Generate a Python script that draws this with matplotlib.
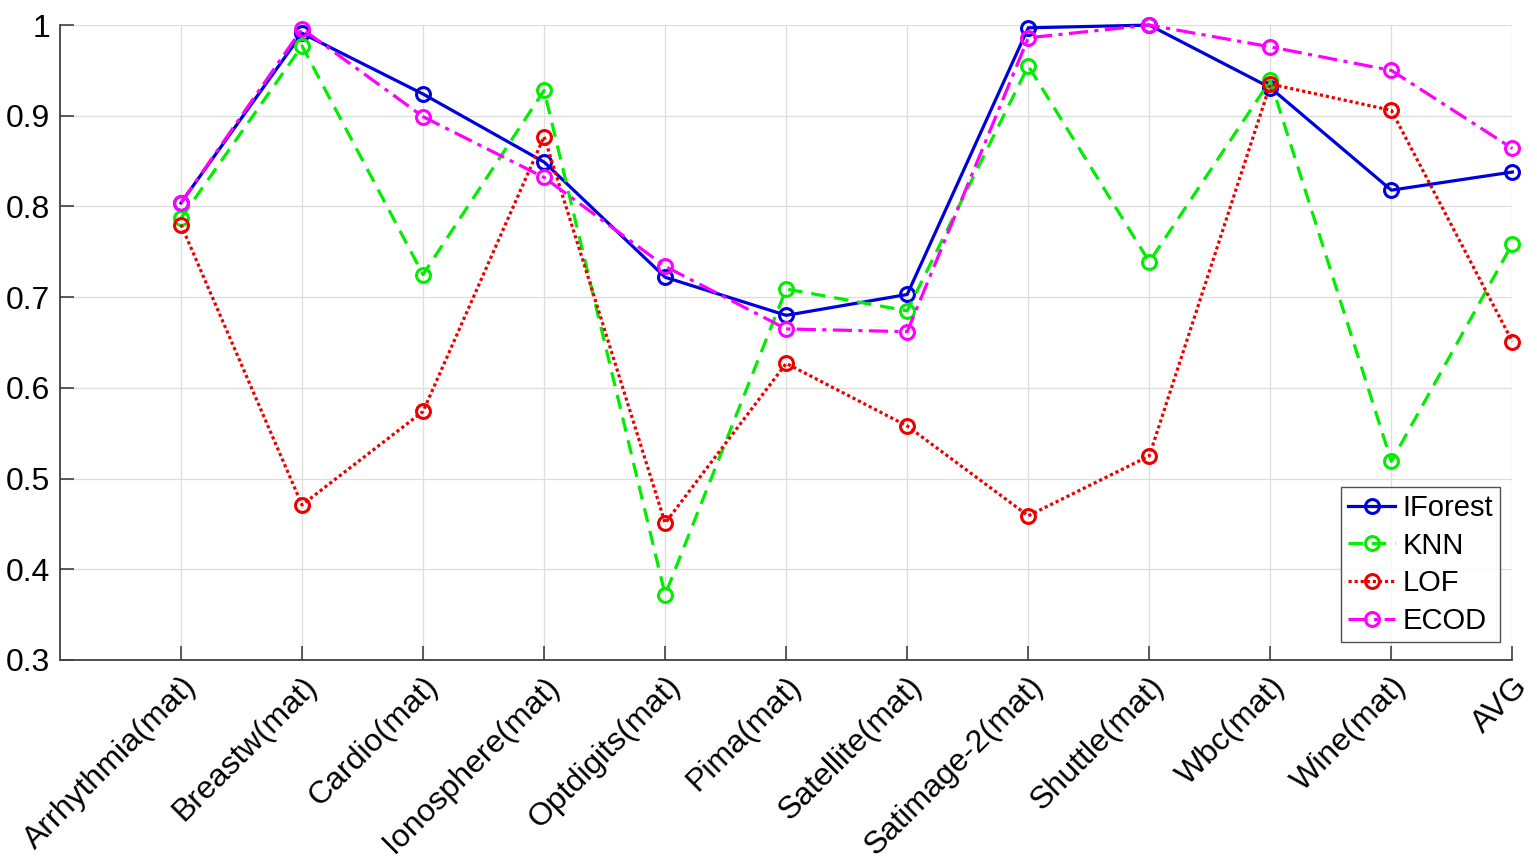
import numpy as np
from matplotlib import pyplot as plt
from matplotlib.ticker import FuncFormatter

plt.rcParams['font.family'] = ['Liberation Sans', 'DejaVu Sans']

datasets = ["Arrhythmia(mat)", "Breastw(mat)", "Cardio(mat)", "Ionosphere(mat)",
            "Optdigits(mat)", "Pima(mat)", "Satellite(mat)", "Satimage-2(mat)",
            "Shuttle(mat)", "Wbc(mat)", "Wine(mat)", "AVG"]

iforest = [0.804, 0.991, 0.924, 0.849, 0.722, 0.680, 0.703, 0.997, 1.000, 0.931, 0.818, 0.838]
knn = [0.787, 0.977, 0.725, 0.928, 0.372, 0.709, 0.685, 0.955, 0.739, 0.939, 0.519, 0.759]
lof = [0.780, 0.471, 0.574, 0.877, 0.451, 0.627, 0.558, 0.459, 0.525, 0.935, 0.906, 0.651]
ecod = [0.804, 0.996, 0.899, 0.832, 0.734, 0.665, 0.662, 0.986, 1.000, 0.976, 0.950, 0.864]

fig = plt.figure(figsize=(15.37, 8.65), dpi=100)
ax = fig.add_axes([0.039, 0.237, 0.945, 0.734])

x = np.arange(1, len(datasets) + 1)
common = dict(marker='o', markersize=10, markerfacecolor='none', markeredgewidth=2.2,
              linewidth=2.3, clip_on=False)
ax.plot(x, iforest, '-', color='#0000DD', label='IForest', **common)
ax.plot(x, knn, '--', color='#00EE00', label='KNN', dashes=(4.5, 2.8), **common)
ax.plot(x, lof, ':', color='#EE0000', label='LOF', dashes=(1.0, 0.9), **common)
ax.plot(x, ecod, '-.', color='#FF00FF', label='ECOD', dashes=(6, 2, 1.3, 2), **common)

ax.set_xlim(0, 12)
ax.set_ylim(0.3, 1.0)
ax.set_xticks(x)
ax.set_xticklabels(datasets, rotation=45, ha='right', va='top', rotation_mode='anchor')
ax.set_yticks(np.arange(0.3, 1.01, 0.1))
ax.yaxis.set_major_formatter(FuncFormatter(lambda v, p: f"{v:g}" if abs(v - 1) > 1e-9 else "1"))
ax.tick_params(direction='in', labelsize=23, color='#404040', length=10, width=1.2)
ax.tick_params(axis='x', pad=8)
ax.tick_params(axis='y', pad=7)
for s in ['top', 'right']:
    ax.spines[s].set_visible(False)
for s in ['left', 'bottom']:
    ax.spines[s].set_color('#404040')
    ax.spines[s].set_linewidth(1.3)
ax.grid(True, color='#dddddd', linewidth=0.9)
ax.set_axisbelow(True)

leg = ax.legend(loc='lower right', fontsize=21, frameon=True, fancybox=False,
                edgecolor='#262626', handlelength=1.6, handletextpad=0.25,
                borderpad=0.25, labelspacing=0.33, borderaxespad=0,
                bbox_to_anchor=(0.9917, 0.028))
leg.get_frame().set_linewidth(1.0)

plt.savefig("out.png", dpi=100)
plt.close()
